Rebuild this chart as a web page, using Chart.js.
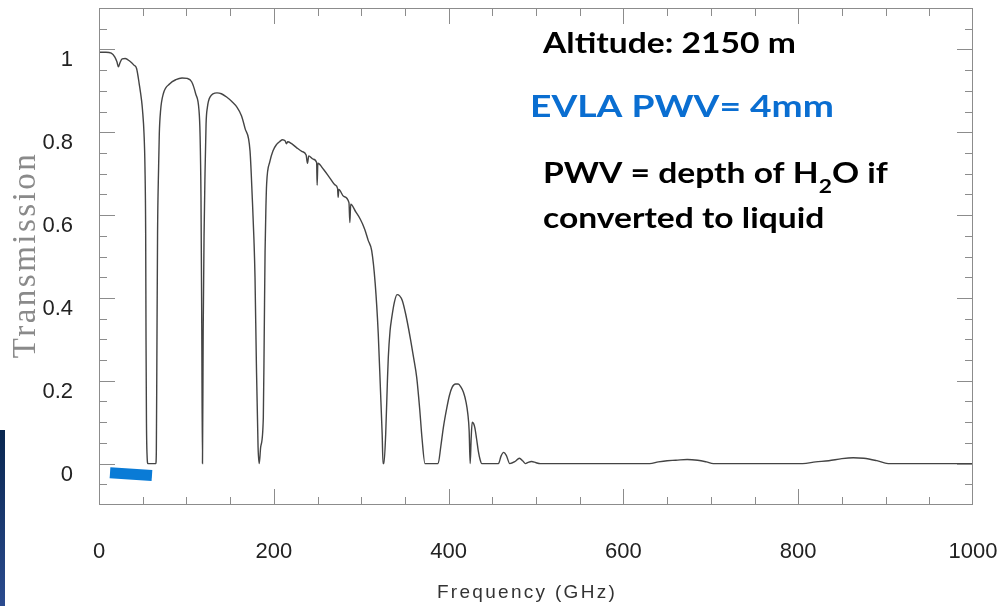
<!DOCTYPE html>
<html>
<head>
<meta charset="utf-8">
<script src="https://cdn.jsdelivr.net/npm/chart.js@4.4.1/dist/chart.umd.min.js"></script>
<style>
  html, body { margin: 0; padding: 0; background: #fff; }
  #wrap { position: relative; width: 1002px; height: 606px; }
  #edge { position: absolute; left: 0; top: 430px; width: 5px; height: 176px;
          background: linear-gradient(#08264f, #2b4b8f); }
</style>
</head>
<body>
<div id="wrap">
  <canvas id="atmChart" width="1002" height="606"></canvas>
  <div id="edge"></div>
</div>
<script>
// atmospheric transmission
const freqGHz = [
  0, 8, 14, 18, 20.5, 22.2, 24, 26.5, 30, 35, 40, 43, 46, 48.7, 49.8, 51.5, 52.6, 53.4, 53.8, 54.3, 55, 56,
  65, 65.6, 66.2, 67, 68.2, 69, 70.5, 73.6, 81, 88, 95, 101, 106, 110.6, 114.4, 115.6, 116.7, 117.6, 118.4,
  119.2, 120.2, 121.3, 122.5, 124, 127, 135, 140, 146, 152, 158, 163, 167, 172.8, 175.4, 177.3, 178.5, 180, 182, 183.3,
  185, 188, 189, 190, 191, 191.8, 195.6, 199, 203, 207, 210, 213, 214.5, 216, 220, 226, 232, 237, 238.5, 240,
  245, 249, 249.6, 250.4, 257, 264, 270, 273, 273.6, 274.4, 280, 286, 287, 288, 294, 299, 304, 308, 312,
  316, 319.5, 322, 324, 325, 326, 328, 330, 331, 333, 335, 338, 341, 344, 347, 351, 356, 360, 363.5, 367, 369.5, 373,
  388, 391, 394, 398, 401, 404, 408, 411, 414, 417, 420, 422, 423.5, 424.7, 425.8, 427, 428.5, 430, 432, 434, 436, 438,
  457, 460, 463, 466, 470, 476, 481, 485, 488, 491, 495, 500, 505,
  630, 640, 650, 660, 673, 685, 695, 703,
  805, 820, 835, 850, 863, 875, 890, 903, 1000
];
const transmission = [
  0.993, 0.993, 0.991, 0.982, 0.970, 0.958, 0.968, 0.977, 0.978, 0.972, 0.962, 0.954, 0.917, 0.877, 0.853, 0.797, 0.715, 0.555, 0.30, 0.10, 0.02, 0,
  0, 0.03, 0.25, 0.555, 0.715, 0.797, 0.853, 0.893, 0.917, 0.927, 0.931, 0.930, 0.922, 0.893, 0.853, 0.797, 0.64, 0.32, 0,
  0.32, 0.55, 0.70, 0.82, 0.86, 0.885, 0.895, 0.893, 0.885, 0.874, 0.86, 0.84, 0.81, 0.755, 0.64, 0.54, 0.45, 0.25, 0.04, 0,
  0.04, 0.11, 0.30, 0.51, 0.62, 0.675, 0.73, 0.755, 0.77, 0.778, 0.782, 0.779, 0.772, 0.777, 0.773, 0.763, 0.754, 0.745, 0.725, 0.743,
  0.735, 0.727, 0.672, 0.725, 0.71, 0.69, 0.673, 0.664, 0.643, 0.662, 0.645, 0.630, 0.582, 0.626, 0.607, 0.590, 0.566, 0.539, 0.514,
  0.435, 0.314, 0.18, 0.07, 0, 0, 0.07, 0.20, 0.256, 0.32, 0.353, 0.39, 0.408, 0.405, 0.394, 0.36, 0.305, 0.255, 0.208, 0.13, 0.063, 0,
  0, 0.04, 0.087, 0.135, 0.165, 0.184, 0.192, 0.192, 0.185, 0.172, 0.148, 0.12, 0.08, 0, 0.06, 0.10, 0.097, 0.087, 0.06, 0.03, 0.01, 0,
  0, 0.018, 0.027, 0.02, 0, 0.005, 0.013, 0.006, 0, 0.003, 0.005, 0.002, 0,
  0, 0.004, 0.007, 0.008, 0.010, 0.008, 0.004, 0,
  0, 0.004, 0.007, 0.012, 0.014, 0.013, 0.007, 0, 0
];

// EVLA band marker (blue bar under the curve)
const bandFreq = [12.6, 60.6];
const bandLevel = [-0.022, -0.029];

const xTicks = [0, 200, 400, 600, 800, 1000];
const xTickLabels = ['0', '200', '400', '600', '800', '1000'];
const yTicks = [0, 0.2, 0.4, 0.6, 0.8, 1];
const yTickLabels = ['0', '0.2', '0.4', '0.6', '0.8', '1'];

// box with inward ticks on all four sides, like the IDL plot
const frameTicks = {
  id: 'frameTicks',
  afterDatasetsDraw(chart) {
    const { ctx, chartArea: a, scales: { x, y } } = chart;
    ctx.save();
    ctx.strokeStyle = '#8c8c8c';
    ctx.lineWidth = 1;
    ctx.strokeRect(a.left + 0.5, a.top + 0.5, a.right - a.left - 1, a.bottom - a.top - 1);
    ctx.beginPath();
    for (let f = 50; f < 1000; f += 50) {
      const px = Math.round(x.getPixelForValue(f)) + 0.5;
      const len = f % 200 === 0 ? 16 : 8;
      ctx.moveTo(px, a.bottom); ctx.lineTo(px, a.bottom - len);
      ctx.moveTo(px, a.top); ctx.lineTo(px, a.top + len);
    }
    for (let i = -1; i <= 21; i++) {
      const py = Math.round(y.getPixelForValue(i * 0.05)) + 0.5;
      const len = (i >= 0 && i % 4 === 0) ? 16 : 8;
      ctx.moveTo(a.left, py); ctx.lineTo(a.left + len, py);
      ctx.moveTo(a.right, py); ctx.lineTo(a.right - len, py);
    }
    ctx.stroke();
    ctx.restore();
  }
};

// the slide picture is stretched sideways, so the callout text is too
const stretch = 1.2;
function stretchedText(ctx, str, x, y) {
  ctx.save();
  ctx.translate(x, y);
  ctx.scale(stretch, 1);
  ctx.fillText(str, 0, 0);
  ctx.restore();
  return ctx.measureText(str).width * stretch;
}

// axis titles and the slide annotations
const slideText = {
  id: 'slideText',
  afterDraw(chart) {
    const ctx = chart.ctx;
    ctx.save();

    ctx.fillStyle = '#8a8a8a';
    ctx.font = '33px "Liberation Serif", "Times New Roman", serif';
    ctx.letterSpacing = '2.5px';
    ctx.textAlign = 'center';
    ctx.textBaseline = 'alphabetic';
    ctx.save();
    ctx.translate(35, 255);
    ctx.rotate(-Math.PI / 2);
    ctx.fillText('Transmission', 0, 0);
    ctx.restore();

    ctx.fillStyle = '#333';
    ctx.font = '19px "Liberation Sans", Arial, sans-serif';
    ctx.letterSpacing = '2.3px';
    ctx.fillText('Frequency (GHz)', 527, 598);

    ctx.letterSpacing = '0px';
    ctx.textAlign = 'left';
    ctx.fillStyle = '#000';
    ctx.font = 'bold 28px Lato, sans-serif';
    stretchedText(ctx, 'Altitude: 2150 m', 543, 53);

    ctx.fillStyle = '#0a6ed1';
    ctx.font = 'bold 31px Lato, sans-serif';
    stretchedText(ctx, 'EVLA PWV= 4mm', 530, 117);

    ctx.fillStyle = '#000';
    ctx.font = 'bold 28px Lato, sans-serif';
    let cx = 543;
    cx += stretchedText(ctx, 'PWV = depth of H', cx, 183);
    ctx.font = 'bold 19px Lato, sans-serif';
    cx += stretchedText(ctx, '2', cx, 193);
    ctx.font = 'bold 28px Lato, sans-serif';
    stretchedText(ctx, 'O if', cx, 183);
    stretchedText(ctx, 'converted to liquid', 543, 228);

    ctx.restore();
  }
};

const ctx = document.getElementById('atmChart').getContext('2d');
const atmChart = new Chart(ctx, {
  type: 'line',
  data: {
    datasets: [{
      label: 'Transmission',
      data: freqGHz.map((f, i) => ({ x: f, y: transmission[i] })),
      borderColor: '#444',
      borderWidth: 1.4,
      pointRadius: 0,
      cubicInterpolationMode: 'monotone',
      fill: false
    }, {
      label: 'EVLA band',
      data: bandFreq.map((f, i) => ({ x: f, y: bandLevel[i] })),
      borderColor: '#0a7bd6',
      borderWidth: 11,
      borderCapStyle: 'butt',
      pointRadius: 0,
      fill: false
    }]
  },
  options: {
    responsive: false,
    animation: false,
    layout: { padding: { left: 0, top: 8, right: 29, bottom: 0 } },
    plugins: { legend: { display: false }, tooltip: { enabled: false } },
    scales: {
      x: {
        type: 'linear',
        min: 0,
        max: 1000,
        afterBuildTicks: (scale) => { scale.ticks = xTicks.map(v => ({ value: v })); },
        afterFit: (scale) => {
          scale.height = 101;
          scale.paddingLeft = 0;
          scale.paddingRight = 0;
        },
        grid: { display: false },
        border: { display: false },
        ticks: {
          font: { family: '"Liberation Sans", Arial, sans-serif', size: 22 },
          color: '#222',
          padding: 26,
          maxRotation: 0,
          callback: (value, index) => xTickLabels[index]
        }
      },
      y: {
        min: -0.1,
        max: 1.1,
        afterBuildTicks: (scale) => { scale.ticks = yTicks.map(v => ({ value: v })); },
        afterFit: (scale) => {
          scale.width = 99;
          scale.paddingTop = 0;
          scale.paddingBottom = 0;
        },
        grid: { display: false },
        border: { display: false },
        ticks: {
          font: { family: '"Liberation Sans", Arial, sans-serif', size: 22 },
          color: '#222',
          padding: 18,
          labelOffset: 11,
          callback: (value, index) => yTickLabels[index]
        }
      }
    }
  },
  plugins: [frameTicks, slideText]
});
</script>
</body>
</html>
